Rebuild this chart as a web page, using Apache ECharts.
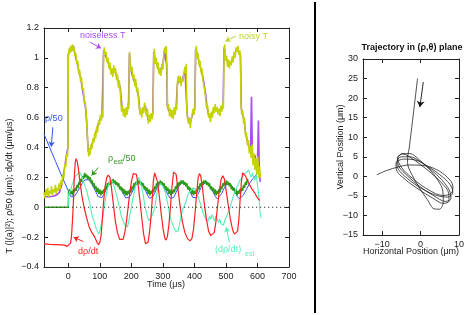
<!DOCTYPE html>
<html><head><meta charset="utf-8">
<script src="https://cdn.jsdelivr.net/npm/echarts@6/dist/echarts.min.js"></script>
<style>html,body{margin:0;padding:0;background:#fff}#c{width:469px;height:315px}</style>
</head><body><div id="c"></div>
<script>
const xTicks = [0,100,200,300,400,500,600,700];
const trajXTicks = [-10,0,10];

const noiselessT = [[-77,0.07],[-60,0.07],[-45,0.075],[-35,0.085],[-28,0.1],[-22,0.14],[-17,0.19],[-12,0.26],[-7,0.33],[-3,0.38],[-1,0.4],[0,1.02],[4,1.06],[8,1.07],[12,1.05],[16,1.08],[20,1.04],[25,0.99],[30,0.95],[35,0.9],[40,0.86],[44,0.8],[48,0.75],[52,0.7],[55,0.66],[58,0.58],[60,0.5],[62,0.42],[64,0.37],[68,0.37],[72,0.4],[78,0.44],[84,0.47],[90,0.52],[96,0.56],[102,0.6],[107,0.62],[110,0.63],[112,1.05],[116,1.04],[121,1.0],[126,0.97],[131,0.94],[136,0.91],[141,0.89],[146,0.93],[150,0.9],[155,0.87],[160,0.83],[165,0.8],[168,0.72],[171,0.66],[176,0.64],[181,0.62],[186,0.65],[191,0.68],[194,1.03],[198,0.93],[203,0.88],[208,0.85],[213,0.83],[218,0.79],[223,0.74],[227,0.64],[232,0.62],[238,0.65],[244,0.68],[249,0.63],[254,0.58],[258,0.6],[264,0.6],[268,0.62],[271,1.04],[276,0.98],[282,0.95],[288,0.91],[294,0.9],[300,0.95],[305,1.05],[309,1.06],[312,0.95],[314,0.68],[318,0.65],[324,0.63],[330,0.62],[336,0.64],[342,0.66],[346,0.82],[352,0.86],[358,0.84],[364,0.87],[370,0.92],[374,0.93],[377,0.62],[381,0.58],[386,0.56],[391,0.6],[396,0.63],[401,0.66],[404,1.06],[409,1.02],[415,0.97],[420,0.93],[426,0.88],[431,0.82],[436,0.75],[440,0.67],[445,0.62],[450,0.6],[456,0.62],[462,0.65],[468,0.67],[474,0.65],[480,0.64],[486,0.66],[491,0.68],[494,1.07],[500,1.0],[506,0.97],[511,0.96],[517,0.97],[523,1.0],[529,1.03],[534,1.06],[540,1.05],[546,1.02],[549,0.66],[553,0.62],[558,0.58],[562,0.5],[566,0.46],[570,0.42],[574,0.4],[578,0.38],[581,0.74],[584,0.36],[588,0.3],[592,0.35],[596,0.26],[600,0.3],[603,0.58],[606,0.22],[609,0.17]];

const noisyT = [[-77,0.1],[-74,0.06],[-71,0.12],[-68,0.08],[-65,0.13],[-62,0.07],[-59,0.11],[-56,0.09],[-53,0.14],[-50,0.08],[-47,0.12],[-44,0.1],[-41,0.15],[-38,0.09],[-35,0.13],[-32,0.11],[-29,0.16],[-26,0.12],[-23,0.18],[-20,0.15],[-17,0.22],[-14,0.2],[-11,0.29],[-8,0.27],[-5,0.36],[-2,0.34],[-1,0.42],[0,1.0],[2,1.06],[5,1.03],[7,1.08],[10,1.04],[13,1.09],[16,1.05],[18,1.07],[21,1.01],[24,1.03],[27,0.96],[30,0.98],[33,0.89],[36,0.92],[39,0.84],[42,0.87],[45,0.78],[48,0.8],[51,0.69],[54,0.71],[57,0.62],[59,0.54],[61,0.45],[63,0.38],[65,0.34],[67,0.39],[69,0.35],[72,0.42],[75,0.39],[78,0.46],[81,0.43],[84,0.5],[87,0.46],[90,0.54],[93,0.5],[96,0.58],[99,0.55],[102,0.62],[105,0.58],[108,0.65],[110,0.6],[112,1.03],[114,1.07],[117,1.02],[120,1.04],[123,0.97],[126,1.0],[129,0.93],[132,0.97],[135,0.89],[138,0.93],[141,0.87],[144,0.95],[147,0.9],[150,0.93],[153,0.85],[156,0.89],[159,0.8],[162,0.85],[165,0.77],[167,0.7],[169,0.64],[172,0.68],[175,0.61],[178,0.66],[181,0.6],[184,0.67],[187,0.62],[190,0.7],[192,0.66],[194,1.04],[196,0.97],[199,0.91],[202,0.94],[205,0.86],[208,0.89],[211,0.81],[214,0.86],[217,0.77],[220,0.8],[223,0.71],[225,0.68],[227,0.62],[230,0.66],[233,0.6],[236,0.67],[239,0.63],[242,0.7],[245,0.65],[248,0.61],[251,0.66],[254,0.56],[257,0.62],[260,0.57],[263,0.63],[266,0.59],[269,0.65],[271,1.02],[273,1.06],[276,0.96],[279,1.0],[282,0.93],[285,0.97],[288,0.89],[291,0.93],[294,0.88],[297,0.96],[300,0.92],[303,1.03],[306,1.07],[309,1.03],[311,1.08],[313,0.93],[315,0.66],[318,0.69],[321,0.61],[324,0.66],[327,0.6],[330,0.65],[333,0.59],[336,0.67],[339,0.62],[342,0.69],[344,0.65],[346,0.84],[349,0.88],[352,0.83],[355,0.88],[358,0.81],[361,0.86],[364,0.84],[367,0.9],[370,0.94],[372,0.9],[374,0.96],[376,0.65],[378,0.6],[381,0.56],[384,0.6],[387,0.53],[390,0.59],[393,0.6],[396,0.66],[399,0.62],[402,0.68],[404,1.04],[406,1.08],[409,1.0],[412,1.03],[415,0.95],[418,0.98],[421,0.9],[424,0.93],[427,0.85],[430,0.86],[433,0.78],[436,0.77],[439,0.66],[442,0.68],[445,0.6],[448,0.63],[451,0.57],[454,0.64],[457,0.6],[460,0.67],[463,0.63],[466,0.69],[469,0.64],[472,0.67],[475,0.62],[478,0.66],[481,0.61],[484,0.68],[487,0.64],[490,0.7],[492,0.66],[494,1.05],[496,1.09],[499,0.98],[502,1.01],[505,0.94],[508,0.99],[511,0.93],[514,0.98],[517,0.95],[520,1.01],[523,0.97],[526,1.04],[529,1.0],[532,1.07],[535,1.04],[538,1.08],[541,1.02],[544,1.05],[546,1.0],[548,0.68],[550,0.62],[553,0.65],[556,0.56],[559,0.6],[562,0.48],[565,0.5],[568,0.42],[571,0.45],[574,0.36],[577,0.41],[580,0.33],[583,0.42],[586,0.28],[589,0.36],[592,0.25],[595,0.33],[598,0.22],[601,0.34],[604,0.2],[607,0.27],[609,0.2]];

const rho50 = [[-77,0.49],[-60,0.405],[-40,0.305],[-20,0.205],[0,0.11],[5,0.085],[10,0.068],[15,0.065],[20,0.075],[28,0.1],[36,0.13],[44,0.16],[52,0.183],[58,0.19],[64,0.185],[72,0.165],[80,0.135],[88,0.1],[95,0.07],[101,0.058],[107,0.065],[114,0.09],[122,0.125],[130,0.155],[138,0.17],[145,0.172],[152,0.165],[160,0.145],[168,0.115],[176,0.085],[182,0.063],[187,0.057],[193,0.065],[200,0.09],[208,0.125],[216,0.155],[224,0.168],[231,0.163],[238,0.14],[245,0.11],[252,0.078],[258,0.06],[263,0.058],[268,0.07],[275,0.1],[283,0.138],[290,0.16],[296,0.16],[303,0.14],[310,0.11],[317,0.08],[323,0.06],[328,0.056],[334,0.065],[342,0.1],[350,0.135],[358,0.158],[365,0.165],[372,0.155],[380,0.13],[388,0.095],[395,0.065],[400,0.056],[406,0.065],[414,0.1],[422,0.135],[430,0.158],[437,0.165],[444,0.155],[452,0.13],[460,0.098],[467,0.07],[473,0.056],[479,0.063],[486,0.09],[494,0.125],[502,0.152],[509,0.16],[516,0.152],[523,0.13],[530,0.1],[536,0.072],[542,0.057],[548,0.06],[555,0.08],[565,0.12],[575,0.16],[585,0.19],[595,0.215],[603,0.235]];

const rhoEst50 = [[-77,0],[0,0],[1,0.1],[4,0.12],[7,0.09],[10,0.11],[13,0.08],[16,0.12],[19,0.1],[22,0.13],[25,0.11],[28,0.15],[31,0.13],[34,0.17],[37,0.15],[40,0.19],[43,0.17],[46,0.21],[49,0.19],[52,0.23],[55,0.2],[58,0.22],[61,0.19],[64,0.21],[67,0.18],[70,0.2],[73,0.16],[76,0.18],[79,0.14],[82,0.16],[85,0.12],[88,0.14],[91,0.1],[94,0.13],[97,0.09],[100,0.12],[103,0.08],[106,0.11],[109,0.09],[112,0.12],[115,0.1],[118,0.14],[121,0.12],[124,0.16],[127,0.14],[130,0.17],[133,0.15],[136,0.18],[139,0.16],[142,0.19],[145,0.16],[148,0.18],[151,0.15],[154,0.17],[157,0.14],[160,0.16],[163,0.12],[166,0.14],[169,0.11],[172,0.13],[175,0.09],[178,0.12],[181,0.08],[184,0.11],[187,0.08],[190,0.11],[193,0.09],[196,0.12],[199,0.1],[202,0.14],[205,0.12],[208,0.16],[211,0.14],[214,0.17],[217,0.15],[220,0.18],[223,0.16],[226,0.18],[229,0.15],[232,0.17],[235,0.14],[238,0.16],[241,0.12],[244,0.14],[247,0.11],[250,0.13],[253,0.09],[256,0.12],[259,0.08],[262,0.11],[265,0.09],[268,0.12],[271,0.1],[274,0.14],[277,0.12],[280,0.16],[283,0.14],[286,0.17],[289,0.15],[292,0.18],[295,0.15],[298,0.17],[301,0.14],[304,0.16],[307,0.12],[310,0.14],[313,0.11],[316,0.13],[319,0.09],[322,0.12],[325,0.08],[328,0.11],[331,0.09],[334,0.12],[337,0.1],[340,0.14],[343,0.12],[346,0.16],[349,0.14],[352,0.17],[355,0.15],[358,0.18],[361,0.16],[364,0.18],[367,0.15],[370,0.17],[373,0.14],[376,0.16],[379,0.12],[382,0.14],[385,0.11],[388,0.13],[391,0.09],[394,0.12],[397,0.08],[400,0.11],[403,0.09],[406,0.12],[409,0.1],[412,0.14],[415,0.12],[418,0.16],[421,0.14],[424,0.17],[427,0.15],[430,0.18],[433,0.16],[436,0.18],[439,0.15],[442,0.17],[445,0.14],[448,0.16],[451,0.12],[454,0.14],[457,0.11],[460,0.13],[463,0.09],[466,0.12],[469,0.08],[472,0.11],[475,0.09],[478,0.12],[481,0.1],[484,0.14],[487,0.12],[490,0.16],[493,0.14],[496,0.17],[499,0.15],[502,0.18],[505,0.15],[508,0.17],[511,0.14],[514,0.16],[517,0.12],[520,0.14],[523,0.11],[526,0.13],[529,0.09],[532,0.12],[535,0.08],[538,0.11],[541,0.09],[544,0.12],[547,0.1],[550,0.13],[553,0.11],[556,0.15],[559,0.13],[562,0.17],[565,0.15],[568,0.19],[570,0.17]];

const dRhoDt = [[-77,-0.245],[-60,-0.248],[-40,-0.25],[-20,-0.252],[-10,-0.255],[-3,-0.262],[0,-0.265],[3,-0.26],[7,-0.24],[10,-0.2],[13,-0.1],[16,0.02],[19,0.2],[22,0.3],[25,0.325],[28,0.31],[32,0.26],[37,0.17],[43,0.08],[50,0.0],[58,-0.07],[66,-0.13],[75,-0.17],[84,-0.2],[91,-0.235],[96,-0.25],[100,-0.235],[104,-0.19],[108,-0.08],[112,0.04],[117,0.14],[122,0.2],[127,0.215],[132,0.2],[137,0.13],[143,0.02],[149,-0.09],[156,-0.17],[163,-0.215],[169,-0.228],[174,-0.215],[180,-0.16],[186,-0.07],[193,0.06],[200,0.17],[206,0.225],[211,0.237],[216,0.22],[221,0.16],[227,0.05],[233,-0.07],[239,-0.18],[245,-0.245],[249,-0.255],[253,-0.235],[258,-0.16],[263,-0.05],[267,0.08],[270,0.18],[274,0.23],[278,0.225],[283,0.17],[289,0.07],[295,-0.05],[301,-0.15],[306,-0.205],[310,-0.22],[314,-0.2],[319,-0.12],[324,0.0],[329,0.14],[334,0.235],[338,0.245],[342,0.22],[348,0.12],[355,0.0],[362,-0.1],[370,-0.17],[378,-0.21],[386,-0.225],[392,-0.21],[397,-0.15],[402,-0.04],[407,0.09],[412,0.2],[416,0.225],[420,0.21],[425,0.14],[431,0.03],[438,-0.08],[445,-0.16],[452,-0.19],[458,-0.195],[463,-0.17],[468,-0.1],[473,0.0],[479,0.11],[485,0.19],[490,0.21],[495,0.19],[500,0.12],[507,0.02],[514,-0.08],[521,-0.15],[527,-0.18],[532,-0.185],[537,-0.16],[541,-0.08],[545,0.05],[549,0.17],[553,0.23],[557,0.235],[562,0.21],[570,0.17],[580,0.13],[590,0.1],[598,0.07],[605,0.05],[608,0.05]];

const dRhoDtEst = [[0,0.0],[1,0.08],[4,0.1],[8,0.12],[12,0.15],[16,0.17],[20,0.2],[24,0.21],[28,0.22],[32,0.225],[36,0.235],[40,0.22],[44,0.2],[48,0.17],[52,0.15],[56,0.12],[60,0.1],[64,0.06],[68,0.03],[72,-0.02],[76,-0.06],[80,-0.08],[84,-0.11],[88,-0.14],[92,-0.16],[96,-0.18],[100,-0.16],[104,-0.12],[108,-0.08],[112,-0.03],[116,0.03],[120,0.08],[124,0.12],[128,0.15],[132,0.17],[136,0.18],[140,0.175],[144,0.15],[148,0.12],[152,0.09],[156,0.06],[160,0.02],[164,-0.02],[168,-0.06],[172,-0.08],[176,-0.1],[180,-0.12],[184,-0.11],[188,-0.13],[192,-0.09],[196,-0.04],[200,0.0],[204,0.05],[208,0.09],[212,0.13],[216,0.16],[220,0.18],[224,0.2],[228,0.17],[232,0.14],[236,0.1],[240,0.05],[244,0.0],[248,-0.04],[252,-0.07],[256,-0.09],[260,-0.08],[264,-0.06],[268,-0.04],[272,-0.02],[276,0.02],[280,0.08],[284,0.12],[288,0.14],[292,0.16],[296,0.15],[300,0.14],[304,0.12],[308,0.1],[312,0.06],[316,0.02],[320,-0.03],[324,-0.07],[328,-0.1],[332,-0.12],[336,-0.14],[340,-0.16],[344,-0.17],[348,-0.16],[352,-0.12],[356,-0.08],[360,-0.04],[364,-0.01],[368,0.01],[372,0.03],[376,0.06],[380,0.09],[384,0.1],[388,0.11],[392,0.12],[396,0.13],[400,0.135],[404,0.12],[408,0.09],[412,0.07],[416,0.04],[420,0.02],[424,-0.01],[428,-0.04],[432,-0.06],[436,-0.08],[440,-0.07],[444,-0.09],[448,-0.06],[452,-0.08],[456,-0.05],[460,-0.07],[464,-0.09],[468,-0.06],[472,-0.08],[476,-0.1],[480,-0.08],[484,-0.11],[488,-0.1],[492,-0.12],[496,-0.09],[500,-0.07],[504,-0.05],[508,-0.03],[512,-0.01],[516,0.02],[520,0.05],[524,0.08],[528,0.1],[532,0.12],[536,0.14],[540,0.16],[544,0.18],[548,0.19],[552,0.2],[556,0.22],[560,0.21],[564,0.23],[568,0.22],[572,0.25],[576,0.22],[580,0.2],[584,0.23],[588,0.2],[592,0.18],[596,0.22],[600,0.15],[603,0.1],[606,0.03],[609,-0.05],[611,-0.07]];

const trajectory = [[-0.8,25.0],[-3.0,7.0],[-3.3,5.6],
[-3.4,3.5],[-2.2,0.3],[-0.3,-3.0],[1.8,-6.0],[3.5,-8.3],[4.9,-8.4],[5.9,-6.5],[5.8,-3.8],[4.5,-1.0],[2.3,1.8],[-0.3,4.2],[-2.8,5.8],[-4.8,5.8],[-6.0,4.2],
[-5.6,2.4],[-3.5,0.2],[-0.2,-2.6],[3.5,-5.0],[6.5,-6.4],[7.9,-5.7],[7.5,-3.6],[5.5,-0.9],[2.8,1.6],[0.0,3.7],[-2.8,5.0],[-5.0,5.0],[-6.2,3.5],
[-5.8,1.8],[-3.5,-0.5],[0.2,-3.1],[4.2,-4.9],[7.2,-5.3],[8.4,-4.0],[7.6,-2.0],[5.0,0.4],[1.8,2.6],[-1.5,4.2],[-4.4,4.4],[-6.4,3.3],
[-6.3,1.7],[-4.0,-0.8],[-0.4,-3.4],[3.2,-5.6],[5.9,-6.9],[7.4,-6.3],[7.3,-4.3],[5.4,-1.6],[2.8,0.8],[0.0,3.0],[-2.6,4.8],[-4.6,5.7],[-6.0,4.8],
[-5.0,2.3],[-2.0,-0.6],[2.0,-3.4],[5.8,-4.9],[8.0,-4.3],[8.4,-2.5],[6.9,-0.2],[4.2,1.7],[0.5,2.8],[-3.0,2.9],[-5.8,2.4],[-8.8,1.5],[-11.4,0.4]];

const trajArrow = [[0.7,24.1],[-0.2,17.7]];
const annotArrows = [
  {from:[69,1.105], to:[104,1.065], color:'#a94cf0'},
  {from:[532,1.146], to:[498,1.112], color:'#c3d22a'},
  {from:[-49,0.535], to:[-54,0.405], color:'#3355ff'},
  {from:[95,0.266], to:[74,0.213], color:'#2e9a1a'},
  {from:[48,-0.23], to:[17,-0.2], color:'#ff2020'},
  {from:[511,-0.235], to:[501,-0.134], color:'#55f0b5'}
];

const FONT = 'Liberation Sans, Arial, Helvetica, sans-serif';
const minus = v => String(v).replace('-', '\u2212');
const axisCommon = {
  axisLine:{show:true, onZero:false, lineStyle:{color:'#222', width:1}},
  splitLine:{show:false}
};
function xAx(grid, pos, min, max, ticks, showLabel){
  return Object.assign({}, axisCommon, {
    gridIndex:grid, type:'value', position:pos, min:min, max:max,
    axisTick:{show:true, inside:true, length:4, customValues:ticks, lineStyle:{color:'#222'}},
    axisLabel:{show:showLabel, customValues:ticks, fontSize:9, color:'#222', fontFamily:FONT, margin:5, formatter:minus}
  });
}
function yAx(grid, pos, min, max, interval, showLabel){
  return Object.assign({}, axisCommon, {
    gridIndex:grid, type:'value', position:pos, min:min, max:max, interval:interval,
    axisTick:{show:true, inside:true, length:4, lineStyle:{color:'#222'}},
    axisLabel:{show:showLabel, fontSize:9, color:'#222', fontFamily:FONT, margin:5,
      formatter: v => minus(Math.round(v*10)/10)}
  });
}
function lineSeries(data, color, width, z){
  return {type:'line', xAxisIndex:0, yAxisIndex:0, data:data, showSymbol:false, symbol:'none',
    lineStyle:{color:color, width:width}, itemStyle:{color:color}, z:z, silent:true, clip:true};
}

const chart = echarts.init(document.getElementById('c'), null, {renderer:'canvas'});
const txt = (x, y, text, fill, size, extra) => Object.assign({type:'text', x:x, y:y, silent:true,
  style:{text:text, fill:fill, font:(size||9)+'px '+FONT, textAlign:'left', textVerticalAlign:'middle', align:'left', verticalAlign:'middle'}}, extra||{});

chart.setOption({
  animation:false,
  backgroundColor:'#fff',
  grid:[
    {left:44, top:28, width:245, height:239},
    {left:363, top:59, width:96, height:176}
  ],
  xAxis:[
    xAx(0,'bottom',-77,700,xTicks,true),
    xAx(0,'top',-77,700,xTicks,false),
    xAx(1,'bottom',-15,10,trajXTicks,true),
    xAx(1,'top',-15,10,trajXTicks,false)
  ],
  yAxis:[
    yAx(0,'left',-0.4,1.2,0.2,true),
    yAx(0,'right',-0.4,1.2,0.2,false),
    yAx(1,'left',-15,30,5,true),
    yAx(1,'right',-15,30,5,false)
  ],
  series:[
    lineSeries(rho50,'#3355ff',1,2),
    lineSeries(rhoEst50,'#2e9a1a',1.5,3),
    lineSeries(dRhoDtEst,'#55f0b5',1.1,4),
    lineSeries(dRhoDt,'#ff2020',1.2,5),
    Object.assign(lineSeries([[-77,0],[700,0]],'#333',1,6), {
      lineStyle:{color:'#333', width:1, type:[1.2,2.8]},
      markLine:{silent:true, symbol:['none','arrow'], symbolSize:5, label:{show:false}, animation:false,
        data: annotArrows.map(a => [
          {coord:a.from, lineStyle:{color:a.color, width:1, type:'solid'}, itemStyle:{color:a.color}},
          {coord:a.to}
        ])}
    }),
    lineSeries(noiselessT,'#a94cf0',1.6,7),
    lineSeries(noisyT,'#c3d400',1.5,8),
    {type:'line', xAxisIndex:2, yAxisIndex:2, data:trajectory, showSymbol:false, symbol:'none', smooth:0.35,
      lineStyle:{color:'#222', width:0.8}, z:5, silent:true,
      markLine:{silent:true, symbol:['none','arrow'], symbolSize:6, label:{show:false}, animation:false,
        lineStyle:{color:'#111', width:0.9, type:'solid'}, itemStyle:{color:'#111'},
        data:[[{coord:trajArrow[0]},{coord:trajArrow[1]}]]}}
  ],
  graphic:[
    {type:'line', silent:true, shape:{x1:315, y1:2, x2:315, y2:313}, style:{stroke:'#000', lineWidth:2}},
    txt(80, 36, 'noiseless T', '#a94cf0'),
    txt(239, 37, 'noisy T', '#c3d22a'),
    txt(45, 119, '\u03c1/50', '#3355ff'),
    txt(108, 159, '\u03c1', '#2e9a1a'),
    txt(113.5, 162.5, 'est', '#2e9a1a', 7),
    txt(123, 159, '/50', '#2e9a1a'),
    txt(78, 252, 'd\u03c1/dt', '#ff2020'),
    txt(215, 250, '(d\u03c1/dt)', '#55f0b5'),
    txt(245, 254, 'est', '#55f0b5', 7),
    {type:'text', x:166, y:285, silent:true, style:{text:'Time (\u03bcs)', fill:'#222', font:'9px '+FONT, textAlign:'center', textVerticalAlign:'middle', align:'center', verticalAlign:'middle'}},
    {type:'text', x:10, y:186, rotation:Math.PI/2, silent:true, style:{text:'T (|(a)|\u00b2); \u03c1/50 (\u03bcm); d\u03c1/dt (\u03bcm/\u03bcs)', fill:'#222', font:'9px '+FONT, textAlign:'center', textVerticalAlign:'middle', align:'center', verticalAlign:'middle'}},
    {type:'text', x:412, y:48, silent:true, style:{text:'Trajectory in (\u03c1,\u03b8) plane', fill:'#111', font:'bold 9px '+FONT, textAlign:'center', textVerticalAlign:'middle', align:'center', verticalAlign:'middle'}},
    {type:'text', x:341, y:147, rotation:Math.PI/2, silent:true, style:{text:'Vertical Position (\u03bcm)', fill:'#222', font:'9px '+FONT, textAlign:'center', textVerticalAlign:'middle', align:'center', verticalAlign:'middle'}},
    {type:'text', x:411, y:252, silent:true, style:{text:'Horizontal Position (\u03bcm)', fill:'#222', font:'9px '+FONT, textAlign:'center', textVerticalAlign:'middle', align:'center', verticalAlign:'middle'}}
  ]
});
</script></body></html>
